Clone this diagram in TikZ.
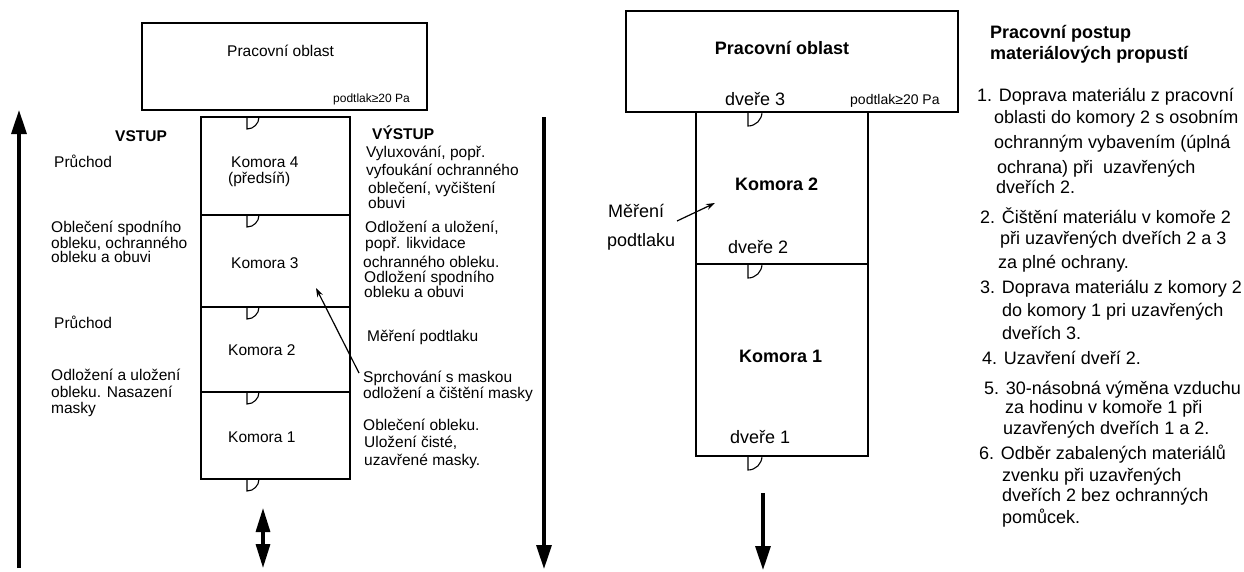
\documentclass[tikz,border=0pt]{standalone}
\usepackage{fontspec}
\setmainfont{Liberation Sans}
\usetikzlibrary{arrows.meta}
\newcommand\doorat[3]{\draw[door] (#1,#2) -- (#1,#2+#3) .. controls (#1+0.552*#3,#2+#3) and (#1+#3,#2+0.552*#3) .. (#1+#3,#2);}
\tikzset{
  wall/.style={draw, line width=1.6pt, inner sep=0pt, outer sep=0pt, anchor=north west},
  door/.style={line width=1.1pt},
  bigarrow/.style={line width=3.2pt, -{Triangle[length=24pt,width=15pt]}},
  dblarrow/.style={line width=3.2pt, {Triangle[length=24pt,width=14pt]}-{Triangle[length=24pt,width=14pt]}},
  thinarrow/.style={line width=1.2pt, -{Stealth[length=9pt,width=6pt]}},
  lt/.style={anchor=base west, inner sep=0pt, font=\fontsize{15.5}{16}\selectfont},
  ltb/.style={lt, font=\fontsize{15.5}{16}\selectfont\bfseries},
  lsm/.style={anchor=base west, inner sep=0pt, font=\fontsize{12}{12}\selectfont},
  rt/.style={anchor=base west, inner sep=0pt, font=\fontsize{18}{20}\selectfont},
  rtb/.style={rt, font=\fontsize{18}{20}\selectfont\bfseries},
  rsm/.style={anchor=base west, inner sep=0pt, font=\fontsize{14}{14}\selectfont},
}
\begin{document}
\begin{tikzpicture}[x=1pt,y=-1pt]
\useasboundingbox (0,0) rectangle (1244,571);
% ---------------- left diagram ----------------
\node[wall, minimum width=285pt, minimum height=87pt] (po) at (142,23) {};
\node[lt] (potxt) at (227,56.5) {Pracovní oblast};
\node[lsm] (podl) at (333,102) {podtlak≥20 Pa};
\node[wall, minimum width=149pt, minimum height=98pt] (k4) at (201,117) {};
\node[wall, minimum width=149pt, minimum height=92pt] (k3) at (201,215) {};
\node[wall, minimum width=149pt, minimum height=85pt] (k2) at (201,307) {};
\node[wall, minimum width=149pt, minimum height=87pt] (k1) at (201,392) {};
\doorat{247}{117}{12}
\doorat{247}{215}{12}
\doorat{247}{307}{12}
\doorat{247}{392}{12}
\doorat{247}{479}{12}
\node[lt] (k4a) at (231,167.5) {Komora 4};
\node[lt] (k4b) at (228,183.5) {(předsíň)};
\node[lt] (k3t) at (231,268.5) {Komora 3};
\node[lt] (k2t) at (228,355.5) {Komora 2};
\node[lt] (k1t) at (228,442.5) {Komora 1};
% entry column
\node[ltb] (vstup) at (115,141) {VSTUP};
\node[lt] (e1) at (54,167.5) {Průchod};
\node[lt] (e2a) at (51,232.5) {Oblečení spodního};
\node[lt] (e2b) at (51,248.5) {obleku, ochranného};
\node[lt] (e2c) at (51,262.5) {obleku a obuvi};
\node[lt] (e3) at (54,328.5) {Průchod};
\node[lt] (e4a) at (51,380.5) {Odložení a uložení};
\node[lt] (e4b) at (51,397.5) {obleku. Nasazení};
\node[lt] (e4c) at (51,413.5) {masky};
% exit column
\node[ltb] (vystup) at (372,139) {VÝSTUP};
\node[lt] (x1a) at (366,157.5) {Vyluxování, popř.};
\node[lt] (x1b) at (366,175.5) {vyfoukání ochranného};
\node[lt] (x1c) at (368,193.5) {oblečení, vyčištení};
\node[lt] (x1d) at (368,208.5) {obuvi};
\node[lt] (x2a) at (365,232.5) {Odložení a uložení,};
\node[lt] (x2b) at (365,248.5) {popř. likvidace};
\node[lt] (x2c) at (363,267.5) {ochranného obleku.};
\node[lt] (x2d) at (364,282.5) {Odložení spodního};
\node[lt] (x2e) at (364,297.5) {obleku a obuvi};
\node[lt] (x3) at (367,341.5) {Měření podtlaku};
\node[lt] (x4a) at (363,382.5) {Sprchování s maskou};
\node[lt] (x4b) at (363,398.5) {odložení a čištění masky};
\node[lt] (x5a) at (363,430.5) {Oblečení obleku.};
\node[lt] (x5b) at (364,447.5) {Uložení čisté,};
\node[lt] (x5c) at (364,465.5) {uzavřené masky.};
% arrows
\coordinate (inbot) at (19,568);
\coordinate (intop) at (19,110);
\coordinate (outtop) at (544,117);
\coordinate (outbot) at (544,569);
\coordinate (dtop) at (263,508);
\coordinate (dbot) at (263,568);
\coordinate (sprfrom) at (359,373);
\coordinate (sprto) at (316,288);
\draw[bigarrow] (inbot) -- (intop);
\draw[bigarrow] (outtop) -- (outbot);
\draw[dblarrow] (dtop) -- (dbot);
\draw[thinarrow] (sprfrom) -- (sprto);
% ---------------- right diagram ----------------
\node[wall, minimum width=332pt, minimum height=101pt] (rpo) at (626,11) {};
\node[rtb, anchor=base] (rpotxt) at (782,54.5) {Pracovní oblast};
\node[rt] (d3) at (725,105.5) {dveře 3};
\node[rsm] (rpodl) at (850,104) {podtlak≥20 Pa};
\node[wall, minimum width=172pt, minimum height=152pt] (rk2) at (696,112) {};
\node[wall, minimum width=172pt, minimum height=192pt] (rk1) at (696,264) {};
\doorat{748}{112}{14}
\doorat{748}{264}{14}
\doorat{748}{456}{14}
\node[rtb] (rk2t) at (735,190.5) {Komora 2};
\node[rt] (mer1) at (608,217.5) {Měření};
\node[rt] (mer2) at (607,246.5) {podtlaku};
\node[rt] (d2) at (728,253.5) {dveře 2};
\node[rtb] (rk1t) at (739,362.5) {Komora 1};
\node[rt] (d1) at (730,443.5) {dveře 1};
\coordinate (merfrom) at (677,221);
\coordinate (merto) at (715,203);
\draw[thinarrow] (merfrom) -- (merto);
\coordinate (rdtop) at (763,493);
\coordinate (rdbot) at (763,570);
\draw[bigarrow] (rdtop) -- (rdbot);
% procedure text
\node[rtb] (h1) at (990,38.5) {Pracovní postup};
\node[rtb] (h2) at (990,59.5) {materiálových propustí};
\node[rt] (p1a) at (977,101.5) {1. Doprava materiálu z pracovní};
\node[rt] (p1b) at (994,123.5) {oblasti do komory 2 s osobním};
\node[rt] (p1c) at (994,148.5) {ochranným vybavením (úplná};
\node[rt] (p1d) at (997,173.5) {ochrana) při\ \ uzavřených};
\node[rt] (p1e) at (996,193.5) {dveřích 2.};
\node[rt] (p2a) at (980,223.5) {2. Čištění materiálu v komoře 2};
\node[rt] (p2b) at (1000,244.5) {při uzavřených dveřích 2 a 3};
\node[rt] (p2c) at (998,268.5) {za plné ochrany.};
\node[rt] (p3a) at (980,293.5) {3. Doprava materiálu z komory 2};
\node[rt] (p3b) at (1002,316.5) {do komory 1 pri uzavřených};
\node[rt] (p3c) at (1002,339.5) {dveřích 3.};
\node[rt] (p4) at (982,364.5) {4. Uzavření dveří 2.};
\node[rt] (p5a) at (984,394.5) {5. 30-násobná výměna vzduchu};
\node[rt] (p5b) at (1005,413.5) {za hodinu v komoře 1 při};
\node[rt] (p5c) at (1003,434.5) {uzavřených dveřích 1 a 2.};
\node[rt] (p6a) at (979,459.5) {6. Odběr zabalených materiálů};
\node[rt] (p6b) at (1002,481.5) {zvenku při uzavřených};
\node[rt] (p6c) at (1002,501.5) {dveřích 2 bez ochranných};
\node[rt] (p6d) at (1002,523.5) {pomůcek.};
\end{tikzpicture}
\end{document}
